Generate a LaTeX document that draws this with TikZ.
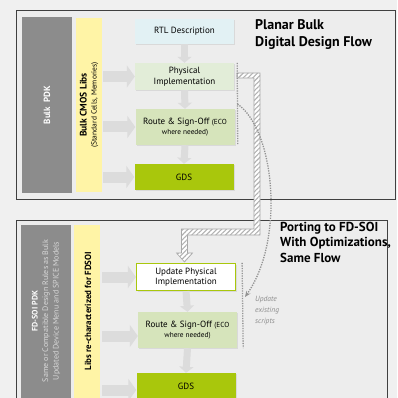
\documentclass[tikz,border=0pt]{standalone}
\usepackage{fontspec}
\setmainfont{PT Sans}
\usetikzlibrary{arrows.meta,calc,patterns.meta,shadows}

\definecolor{bggray}{HTML}{F0F0F0}
\definecolor{panelgray}{HTML}{EDEDED}
\definecolor{pdkgray}{HTML}{8C8C8C}
\definecolor{libyellow}{HTML}{FFF4A6}
\definecolor{rtlblue}{HTML}{E2F1F4}
\definecolor{physgreen}{HTML}{E2EDD8}
\definecolor{routegreen}{HTML}{D6E4BB}
\definecolor{gdsgreen}{HTML}{A9C70C}
\definecolor{arrowgray}{HTML}{DCDCDC}

\tikzset{
  flowbox/.style={minimum width=99pt, align=center, inner sep=1pt,
    font=\fontsize{9}{10.5}\selectfont,
    drop shadow={shadow xshift=1pt, shadow yshift=-1.2pt, opacity=0.18}},
  sidebar/.style={inner sep=0pt},
  barlabel/.style={rotate=90, align=center, inner sep=0pt},
  blockarrow/.style={line width=11pt, draw=arrowgray, -{Triangle[length=8pt,width=22pt]}},
  downarrow/.style={line width=7pt, draw=arrowgray, -{Triangle[length=6pt,width=14pt]}},
  dotline/.style={draw=gray!85, line width=1.3pt, dash pattern=on 1.3pt off 1.2pt},
  flowtitle/.style={anchor=north west, align=left, inner sep=0pt},
}
\newcommand{\ecosize}{\fontsize{7.3}{10.5}\selectfont}

\begin{document}
\begin{tikzpicture}[x=1pt,y=-1pt]
	%%%%% START %%%%%
	\useasboundingbox (0,0) rectangle (397,398);
	\clip (0,0) rectangle (397,398);
	\fill[bggray] (0,0) rectangle (397,398);
	
	% panels
	\draw[fill=panelgray, draw=black!75, line width=0.8pt] (16,10) rectangle (395,199);
	\draw[fill=panelgray, draw=black!75, line width=0.8pt] (16,220) rectangle (387,410);
	
	% bulk side bars
	\node[sidebar, fill=pdkgray, minimum width=50pt, minimum height=176pt] (pdk) at (47,105) {};
	\node[barlabel, text=white, font=\bfseries\fontsize{9}{10}\selectfont] (pdklabel) at (pdk) {Bulk\ \ PDK};
	\node[sidebar, fill=libyellow, minimum width=26pt, minimum height=174pt] (libs) at (89,105) {};
	\node[barlabel, font=\fontsize{7.5}{10}\selectfont] (libslabel) at (libs) {{\bfseries\fontsize{9.5}{10}\selectfont Bulk CMOS Libs}\\(Standard Cells, Memories)};
	
	% bulk flow
	\node[flowbox, fill=rtlblue, minimum height=25pt] (rtl) at (184.5,31.5) {RTL Description};
	\node[flowbox, fill=physgreen, minimum height=27pt] (phys) at (184.5,76.5) {Physical\\Implementation};
	\node[flowbox, fill=routegreen, minimum height=36pt] (route) at (185,127) {Route \& Sign-Off {\ecosize(ECO}\\{\ecosize where needed)}};
	\node[flowbox, fill=gdsgreen, minimum height=26pt] (gds) at (184,177) {GDS};
	
	\draw[downarrow] (rtl.south) -- (phys.north);
	\draw[downarrow] (phys.south) -- (route.north);
	\draw[downarrow] (route.south) -- (gds.north);
	\draw[blockarrow] ([xshift=1pt]libs.east |- phys.west) -- (phys.west);
	\draw[blockarrow] ([xshift=1pt]libs.east |- route.west) -- (route.west);
	\draw[blockarrow] ([xshift=1pt]libs.east |- gds.west) -- (gds.west);
	
	\node[flowtitle, font=\bfseries\fontsize{14}{17}\selectfont] (bulktitle) at (255,19) {Planar Bulk\\Digital Design Flow};
	
	% fd-soi side bars
	\node[sidebar, fill=pdkgray, minimum width=50pt, minimum height=185pt] (soipdk) at (46,317.5) {};
	\node[barlabel, text=black!15, font=\fontsize{8}{10.5}\selectfont] (soipdklabel) at (46,311) {{\bfseries\color{white}FD-SOI PDK}\\Same or Compatible Design Rules as Bulk\\Updated Device Menu and SPICE Models};
	\node[sidebar, fill=libyellow, minimum width=26pt, minimum height=185pt] (soilibs) at (87,317.5) {};
	\node[barlabel, font=\bfseries\fontsize{8.9}{10}\selectfont] (soilibslabel) at (88,311) {Libs re-characterized for FDSOI};
	
	% fd-soi flow
	\node[flowbox, fill=white, draw=gdsgreen, line width=1.2pt, minimum height=27pt] (upd) at (186,277) {Update Physical\\Implementation};
	\node[flowbox, fill=routegreen, minimum height=36pt] (route2) at (187.5,330) {Route \& Sign-Off {\ecosize(ECO}\\{\ecosize where needed)}};
	\node[flowbox, fill=gdsgreen, minimum height=30pt] (gds2) at (186,388) {\raisebox{4pt}{GDS}};
	
	\draw[downarrow] (upd.south) -- (route2.north);
	\draw[downarrow] (route2.south) -- (gds2.north);
	\draw[blockarrow] ([xshift=2pt]soilibs.east |- upd.west) -- (upd.west);
	\draw[blockarrow] ([xshift=2pt]soilibs.east |- 0,336) -- (route2.west |- 0,336);
	\draw[blockarrow] ([xshift=2pt]soilibs.east |- 0,390) -- (gds2.west |- 0,390);
	
	\node[flowtitle, font=\bfseries\fontsize{13}{15.5}\selectfont] (soititle) at (280,222) {Porting to FD-SOI\\With Optimizations,\\Same Flow};
	
	% porting band
	\filldraw[draw=gray!70, line width=0.6pt, fill=white, postaction={pattern={Lines[angle=45,distance=3.4pt,line width=1.1pt]}, pattern color=gray!60}]
		(237,73) -- (260,73) -- (260,235) -- (187.5,235) -- (187.5,253) -- (192.5,253) -- (184.5,262)
		-- (176.5,253) -- (181.5,253) -- (181.5,229) -- (254,229) -- (254,78) -- (237,78) -- cycle;
	
	% script updates
	\coordinate (dotTop) at ([xshift=3pt]phys.north east);
	\coordinate (dotBot) at ([xshift=3pt]route.south east);
	\coordinate (dotTop2) at ([xshift=6pt]upd.north east);
	\coordinate (dotBot2) at ([xshift=6pt]route2.south east);
	\coordinate (scriptTip) at (245,297);
	\draw[dotline] (dotTop) -- (dotBot);
	\draw[dotline] (dotTop2) -- (dotBot2);
	\draw[dotline, -{Stealth[length=6pt,width=5pt]}] ($(dotTop)!0.5!(dotBot)$) .. controls (275,130) and (285,240) .. (scriptTip);
	\node[anchor=west, align=left, inner sep=0pt, text=gray!90, font=\itshape\fontsize{7.5}{11}\selectfont] (scripts) at (255,311) {Update\\existing\\scripts};
	%%%%% END %%%%%
\end{tikzpicture}
\end{document}
